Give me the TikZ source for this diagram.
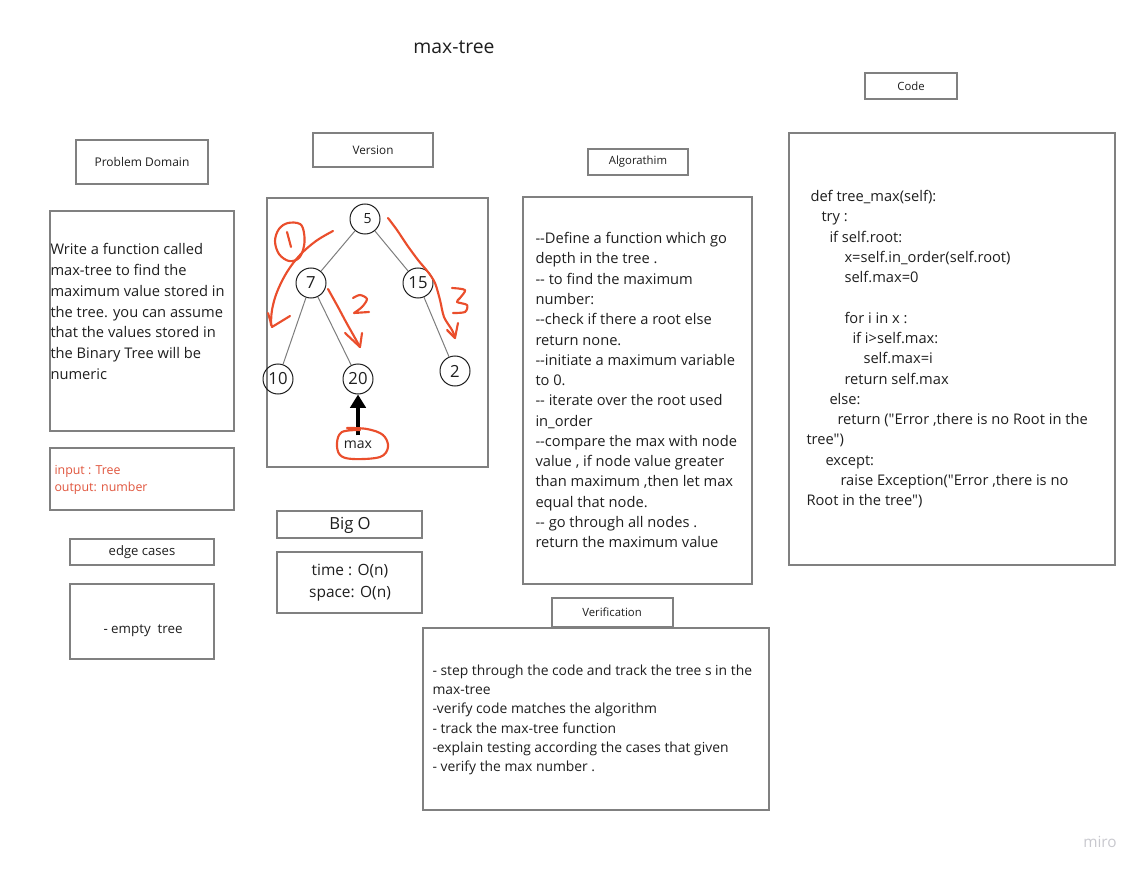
\documentclass[tikz,border=0pt]{standalone}
\usepackage{fontspec}
\setmainfont{Open Sans}[Ligatures=TeXOff]
\usetikzlibrary{arrows.meta}

\definecolor{framegray}{RGB}{128,128,128}
\definecolor{ink}{RGB}{30,30,30}
\definecolor{edgegray}{RGB}{125,125,125}
\definecolor{scribred}{RGB}{234,78,44}
\definecolor{inred}{RGB}{224,86,62}
\definecolor{logogray}{RGB}{200,200,206}

\tikzset{every picture/.style={line width=0.75pt}}
\tikzset{
	frame/.style={draw=framegray, line width=1.1pt},
	hdrtxt/.style={inner sep=0pt, text=ink, font=\fontsize{8.5}{10}\selectfont},
	bodytxt/.style={inner sep=0pt, text=ink, align=left, anchor=north west, font=\fontsize{11}{15.2}\selectfont},
	treenode/.style={circle, draw=ink, line width=0.75pt, minimum size=22.5pt, inner sep=0pt, text=ink, font=\fontsize{12.5}{14}\selectfont},
	treeedge/.style={draw=edgegray, line width=0.75pt},
	scribble/.style={draw=scribred, line width=1.6pt, line cap=round, line join=round},
	maxarrow/.style={draw=black, line width=3pt, -{Triangle[width=11.5pt,length=10pt]}}
}

\begin{document}
\begin{tikzpicture}[x=0.75pt,y=0.75pt,yscale=-1,xscale=1]
	\path[use as bounding box] (0,0) rectangle (1144,873);

	% Text Node
	\node[inner sep=0pt, text=ink, font=\fontsize{14.5}{17}\selectfont] (title) at (454,47) {max-tree};

	%Shape: Rectangle [Code header]
	\draw[frame] (865,73) rectangle (957,99);
	% Text Node
	\node[hdrtxt] (codehdr) at (911,86) {Code};
	%Shape: Rectangle [Problem Domain header]
	\draw[frame] (76,140) rectangle (208,184);
	% Text Node
	\node[hdrtxt, font=\fontsize{9}{11}\selectfont] (pdhdr) at (142,162) {Problem Domain};
	%Shape: Rectangle [Version header]
	\draw[frame] (313,133) rectangle (433,167);
	% Text Node
	\node[hdrtxt, font=\fontsize{8.8}{10}\selectfont] (verhdr) at (373,150) {Version};
	%Shape: Rectangle [Algorathim header]
	\draw[frame] (588,149) rectangle (688,175);
	% Text Node
	\node[hdrtxt] (alghdr) at (638,162) {Algorathim};
	%Shape: Rectangle [Verification header]
	\draw[frame] (552,598) rectangle (673,627);
	% Text Node
	\node[hdrtxt] (vfhdr) at (612,612) {Verification};
	%Shape: Rectangle [edge cases header]
	\draw[frame] (70,539) rectangle (214,565);
	% Text Node
	\node[hdrtxt, font=\fontsize{9.8}{11}\selectfont] (edgehdr) at (142,552) {edge cases};
	%Shape: Rectangle [Big O header]
	\draw[frame] (277,511) rectangle (422,538);
	% Text Node
	\node[hdrtxt, font=\fontsize{12.5}{14}\selectfont] (bigohdr) at (350,525) {Big O};

	%Shape: Rectangle [problem]
	\draw[frame] (50,211) rectangle (234,431);
	% Text Node
	\node[bodytxt, font=\fontsize{11}{15.6}\selectfont] (problem) at (50,243) {Write a function called\\max-tree to find the\\maximum value stored in\\the tree. you can assume\\that the values stored in\\the Binary Tree will be\\numeric};
	%Shape: Rectangle [input output]
	\draw[frame] (50,448) rectangle (234,510);
	% Text Node
	\node[bodytxt, text=inred, font=\fontsize{9.3}{12.75}\selectfont] (inout) at (54,465) {input : Tree\\output: number};
	%Shape: Rectangle [edge cases]
	\draw[frame] (70,584) rectangle (214,659);
	% Text Node
	\node[hdrtxt, font=\fontsize{10}{12}\selectfont] (empty) at (143,631) {- empty\ \ tree};
	%Shape: Rectangle [time space]
	\draw[frame] (277,552) rectangle (422,613);
	% Text Node
	\node[hdrtxt, align=center, font=\fontsize{11.6}{16.5}\selectfont] (cost) at (350,583) {time : O(n)\\space: O(n)};

	%Shape: Rectangle [tree]
	\draw[frame] (267,198) rectangle (488,467);
	% Tree nodes
	\node[treenode, font=\fontsize{10.5}{12}\selectfont] (n5) at (365,219) {\hspace*{4pt}5};
	\node[treenode] (n7) at (311,283) {7};
	\node[treenode] (n15) at (418,283) {15};
	\node[treenode] (n10) at (278,379) {10};
	\node[treenode] (n20) at (358,379) {20};
	\node[treenode] (n2) at (455,371) {2};
	% Tree edges
	\draw[treeedge] (n5) -- (n7);
	\draw[treeedge] (n5) -- (n15);
	\draw[treeedge] (n7) -- (n10);
	\draw[treeedge] (n7) -- (n20);
	\draw[treeedge] (n15) -- (n2);
	% Text Node
	\node[inner sep=0pt, text=ink, font=\fontsize{10.5}{12}\selectfont] (maxlbl) at (358,445) {max};
	%Straight Lines [max arrow]
	\draw[maxarrow] ([yshift=-4pt]maxlbl.north) -- (n20.south);

	%Curve Lines [scribble 1]
	\draw[scribble] plot[smooth cycle, tension=0.6] coordinates {(300,224) (288,223) (279,229) (275,241) (279,254) (289,261) (299,258) (304,246) (304,233)};
	\draw[scribble] (287,232) -- (291,247);
	\draw[scribble] plot[smooth, tension=0.6] coordinates {(333,231) (316,241) (300,255) (287,272) (277,292) (272,310) (271,325)};
	\draw[scribble] (268,313) -- (272,327) -- (290,316);
	%Curve Lines [scribble 2]
	\draw[scribble] plot[smooth, tension=0.5] coordinates {(328,289) (338,307) (346,322) (355,338) (360,347)};
	\draw[scribble] (345,333) -- (360,347) -- (362,333);
	\draw[scribble] plot[smooth, tension=0.5] coordinates {(353,298) (360,295) (367,299) (362,307) (354,313)} -- (369,312);
	%Curve Lines [scribble 3]
	\draw[scribble] plot[smooth, tension=0.5] coordinates {(388,218) (397,230) (407,245) (418,260) (428,272) (435,283) (440,300) (444,317) (452,330) (455,337)};
	\draw[scribble] (447,330) -- (455,338) -- (458,323);
	\draw[scribble] plot[smooth, tension=0.5] coordinates {(452,288) (465,290) (460,298) (457,302) (467,305) (465,312) (453,313)};
	%Curve Lines [max scribble]
	\draw[scribble] plot[smooth, tension=0.6] coordinates {(360,430) (342,432) (337,443) (340,455) (353,459) (380,457) (388,447) (383,435) (367,429) (347,428)};

	%Shape: Rectangle [algorithm]
	\draw[frame] (523,197) rectangle (752,584);
	% Text Node
	\node[bodytxt] (algo) at (535,232) {--Define a function which go\\depth in the tree .\\-- to find the maximum\\number:\\--check if there a root else\\return none.\\--initiate a maximum variable\\to 0.\\-- iterate over the root used\\in\_order\\--compare the max with node\\value , if node value greater\\than maximum ,then let max\\equal that node.\\-- go through all nodes .\\return the maximum value};

	%Shape: Rectangle [verification]
	\draw[frame] (423,628) rectangle (769,810);
	% Text Node
	\node[bodytxt, font=\fontsize{10.4}{14.5}\selectfont] (verify) at (432,664) {- step through the code and track the tree s in the\\max-tree\\-verify code matches the algorithm\\- track the max-tree function\\-explain testing according the cases that given\\- verify the max number .};

	%Shape: Rectangle [code]
	\draw[frame] (789,133) rectangle (1115,565);
	% Text Node
	\node[bodytxt] (code) at (806,190) {\hspace*{3pt}def tree\_max(self):\\
		\hspace*{11.25pt}try :\\
		\hspace*{17.25pt}if self.root:\\
		\hspace*{28.5pt}x=self.in\_order(self.root)\\
		\hspace*{28.5pt}self.max=0\\[15.2pt]
		\hspace*{28.5pt}for i in x :\\
		\hspace*{34.5pt}if i>self.max:\\
		\hspace*{42.75pt}self.max=i\\
		\hspace*{28.5pt}return self.max\\
		\hspace*{17.25pt}else:\\
		\hspace*{23.25pt}return ("Error ,there is no Root in the\\
		tree")\\
		\hspace*{14.25pt}except:\\
		\hspace*{25.5pt}raise Exception("Error ,there is no\\
		Root in the tree")};

	% Text Node
	\node[inner sep=0pt, text=logogray, font=\fontsize{11.5}{13}\selectfont] (logo) at (1100,842) {miro};
\end{tikzpicture}
\end{document}
